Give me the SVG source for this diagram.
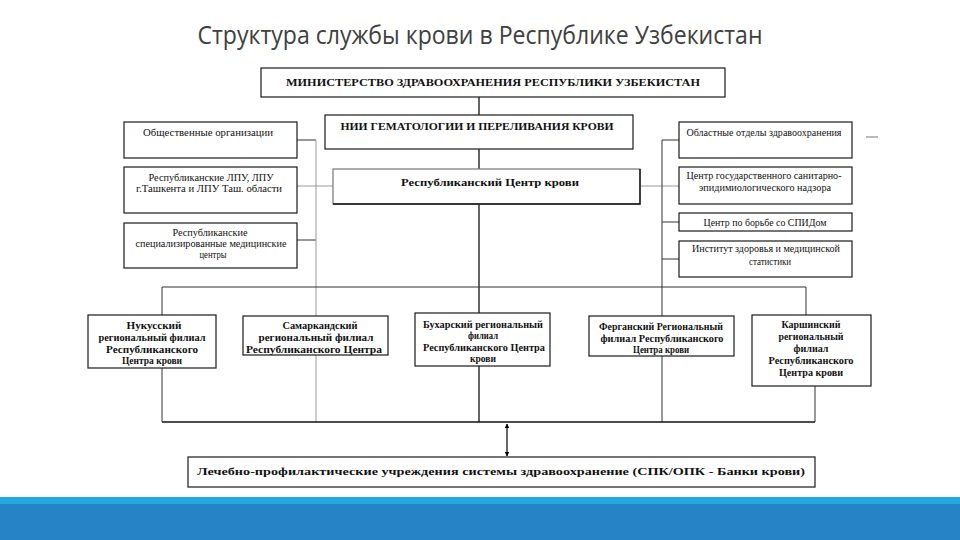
<svg xmlns="http://www.w3.org/2000/svg" width="960" height="540" viewBox="0 0 960 540">
<defs>
<style>
.box{fill:#fff;stroke:#1a1a1a;stroke-width:1.2}
.t{font-family:"Liberation Serif","Times New Roman",serif;font-size:10px;fill:#111;text-anchor:middle}
.b{font-weight:bold}
.ln{stroke:#333;stroke-width:1;fill:none}
.lg{stroke:#9a9a9a;stroke-width:1;fill:none}
.lk{stroke:#000;stroke-width:1.2;fill:none}
</style>
<marker id="ah" viewBox="0 0 10 10" refX="9" refY="5" markerWidth="4" markerHeight="5" orient="auto-start-reverse" markerUnits="strokeWidth">
<path d="M0,0 L10,5 L0,10 z" fill="#000"/>
</marker>
</defs>
<rect x="0" y="0" width="960" height="540" fill="#fff"/>
<text x="480" y="44" font-family="'Open Sans','Noto Sans',sans-serif" font-size="25" fill="#404040" text-anchor="middle" textLength="565" lengthAdjust="spacingAndGlyphs">Структура службы крови в Республике Узбекистан</text>

<g id="connectors">
<path class="lk" d="M479,97 V115 M479,149 V169 M479,204 V422"/>
<path class="ln" d="M297,140 H316 M297,240 H316"/>
<path class="lg" d="M316,140 V422"/>
<path class="lg" d="M297,186 H333 M640,186 H679"/>
<path class="ln" d="M679,140 H662 V422 M662,222 H679 M662,259 H679"/>
<path class="ln" d="M162,287 H806"/>
<path class="ln" d="M162,287 V422 M806,287 V315 M815,386 V422"/>
<path stroke="#111" stroke-width="1.6" fill="none" d="M162,422 H815"/>
<line class="lk" x1="507" y1="424" x2="507" y2="456" marker-start="url(#ah)" marker-end="url(#ah)"/>
<line x1="866" y1="137" x2="878" y2="137" stroke="#777" stroke-width="1"/>
</g>

<g id="ministry">
<rect class="box" x="261" y="68" width="464" height="29"/>
<text class="t b" x="493" y="86" font-size="11.5" textLength="414" lengthAdjust="spacingAndGlyphs">МИНИСТЕРСТВО ЗДРАВООХРАНЕНИЯ РЕСПУБЛИКИ УЗБЕКИСТАН</text>
</g>
<g id="nii">
<rect class="box" x="325" y="115" width="308" height="34"/>
<text class="t b" x="477" y="130" font-size="11" textLength="273" lengthAdjust="spacingAndGlyphs">НИИ ГЕМАТОЛОГИИ И ПЕРЕЛИВАНИЯ КРОВИ</text>
</g>
<g id="rcb">
<rect class="box" x="333" y="169" width="307" height="35" style="stroke:#777"/>
<path d="M640,169 V204 H333" stroke="#111" stroke-width="1.4" fill="none"/>
<text class="t b" x="490" y="186" font-size="12" textLength="178" lengthAdjust="spacingAndGlyphs">Республиканский Центр крови</text>
</g>

<g id="l1">
<rect class="box" x="124" y="122" width="173" height="36"/>
<text class="t" x="208" y="136" textLength="130" lengthAdjust="spacingAndGlyphs">Общественные организации</text>
</g>
<g id="l2">
<rect class="box" x="124" y="167" width="173" height="46"/>
<text class="t" x="211" y="181" textLength="125" lengthAdjust="spacingAndGlyphs">Республиканские ЛПУ, ЛПУ</text>
<text class="t" x="209" y="192" textLength="146" lengthAdjust="spacingAndGlyphs">г.Ташкента и ЛПУ Таш. области</text>
</g>
<g id="l3">
<rect class="box" x="124" y="223" width="173" height="45"/>
<text class="t" x="210" y="236" textLength="75" lengthAdjust="spacingAndGlyphs">Республиканские</text>
<text class="t" x="211" y="247" textLength="151" lengthAdjust="spacingAndGlyphs">специализированные медицинские</text>
<text class="t" x="213" y="258" textLength="27" lengthAdjust="spacingAndGlyphs">центры</text>
</g>

<g id="r1">
<rect class="box" x="679" y="122" width="173" height="36"/>
<text class="t" x="764" y="136" textLength="155" lengthAdjust="spacingAndGlyphs">Областные отделы здравоохранения</text>
</g>
<g id="r2">
<rect class="box" x="679" y="167" width="173" height="37"/>
<text class="t" x="764" y="179" textLength="155" lengthAdjust="spacingAndGlyphs">Центр государственного санитарно-</text>
<text class="t" x="765" y="191" textLength="132" lengthAdjust="spacingAndGlyphs">эпидимиологического надзора</text>
</g>
<g id="r3">
<rect class="box" x="679" y="213" width="173" height="18"/>
<text class="t" x="765" y="225.5" textLength="123" lengthAdjust="spacingAndGlyphs">Центр по борьбе со СПИДом</text>
</g>
<g id="r4">
<rect class="box" x="679" y="241" width="173" height="36"/>
<text class="t" x="766" y="252" textLength="148" lengthAdjust="spacingAndGlyphs">Институт здоровья и медицинской</text>
<text class="t" x="770" y="265" textLength="42" lengthAdjust="spacingAndGlyphs">статистики</text>
</g>

<g id="nukus">
<rect class="box" x="88" y="315" width="128" height="53"/>
<text class="t b" x="154" y="328.5" textLength="55" lengthAdjust="spacingAndGlyphs">Нукусский</text>
<text class="t b" x="152" y="340.5" textLength="107" lengthAdjust="spacingAndGlyphs">региональный филиал</text>
<text class="t b" x="152" y="352.5" textLength="92" lengthAdjust="spacingAndGlyphs">Республиканского</text>
<text class="t b" x="152" y="363.5" textLength="60" lengthAdjust="spacingAndGlyphs">Центра крови</text>
</g>
<g id="samarkand">
<rect class="box" x="243" y="316" width="145" height="39"/>
<text class="t b" x="320" y="329" textLength="75" lengthAdjust="spacingAndGlyphs">Самаркандский</text>
<text class="t b" x="316" y="341" textLength="115" lengthAdjust="spacingAndGlyphs">региональный филиал</text>
<text class="t b" x="314" y="352.5" textLength="136" lengthAdjust="spacingAndGlyphs">Республиканского Центра</text>
</g>
<g id="bukhara">
<rect class="box" x="415" y="313" width="135" height="53"/>
<text class="t b" x="483" y="327.5" textLength="120" lengthAdjust="spacingAndGlyphs">Бухарский региональный</text>
<text class="t b" x="483" y="338.5" textLength="30" lengthAdjust="spacingAndGlyphs">филиал</text>
<text class="t b" x="484" y="350.5" textLength="122" lengthAdjust="spacingAndGlyphs">Республиканского Центра</text>
<text class="t b" x="483" y="361.5" textLength="26" lengthAdjust="spacingAndGlyphs">крови</text>
</g>
<g id="fergana">
<rect class="box" x="589" y="316" width="145" height="40"/>
<text class="t b" x="661" y="329.5" textLength="124" lengthAdjust="spacingAndGlyphs">Ферганский Региональный</text>
<text class="t b" x="662" y="341.5" textLength="123" lengthAdjust="spacingAndGlyphs">филиал Республиканского</text>
<text class="t b" x="661" y="353" textLength="56" lengthAdjust="spacingAndGlyphs">Центра крови</text>
</g>
<g id="karshi">
<rect class="box" x="752" y="315" width="119" height="71"/>
<text class="t b" x="811" y="327.5" textLength="59" lengthAdjust="spacingAndGlyphs">Каршинский</text>
<text class="t b" x="811" y="340" textLength="65" lengthAdjust="spacingAndGlyphs">региональный</text>
<text class="t b" x="811" y="352" textLength="35" lengthAdjust="spacingAndGlyphs">филиал</text>
<text class="t b" x="811" y="364" textLength="85" lengthAdjust="spacingAndGlyphs">Республиканского</text>
<text class="t b" x="811" y="376" textLength="64" lengthAdjust="spacingAndGlyphs">Центра крови</text>
</g>

<g id="lpu">
<rect class="box" x="188" y="457" width="627" height="30"/>
<text class="t b" x="501" y="474.5" font-size="12" textLength="608" lengthAdjust="spacingAndGlyphs">Лечебно-профилактические учреждения системы здравоохранение (СПК/ОПК - Банки крови)</text>
</g>

<rect x="0" y="497" width="960" height="7" fill="#21AAE0"/>
<rect x="0" y="504" width="960" height="36" fill="#2683C6"/>
</svg>
